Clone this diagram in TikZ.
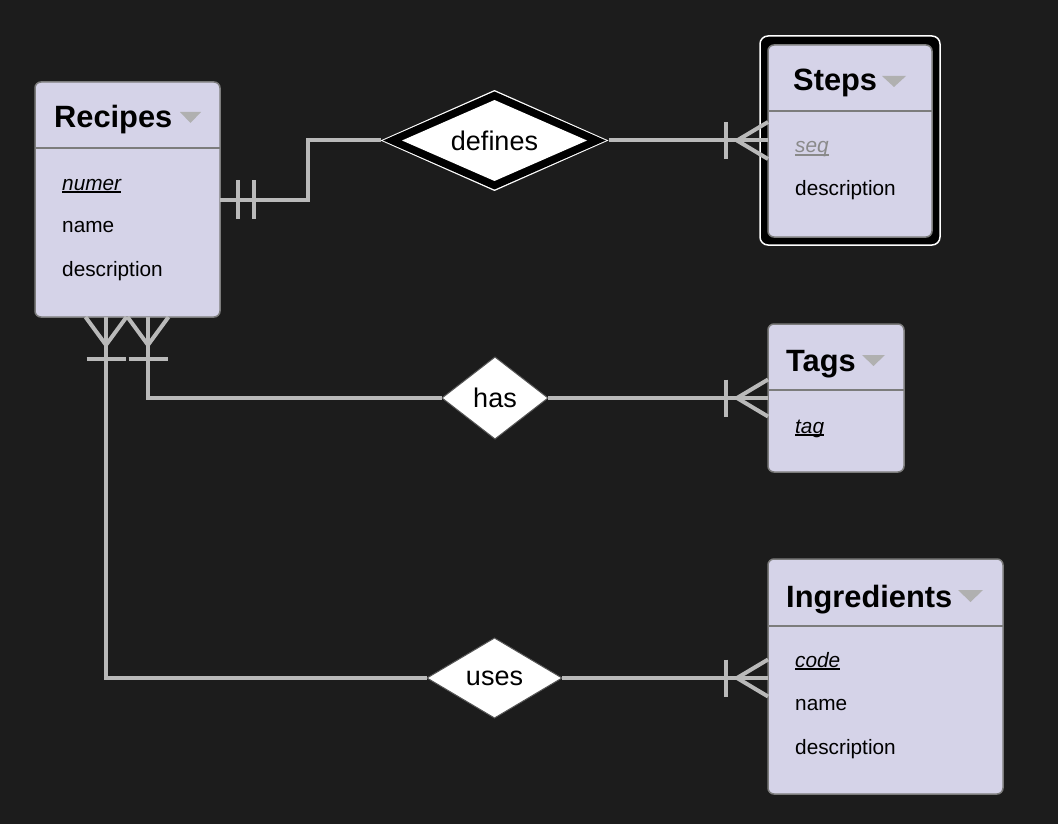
\documentclass[tikz,border=0pt]{standalone}
\usepackage{fontspec}
\setmainfont{Liberation Sans}
\usetikzlibrary{shapes.geometric,calc}
\definecolor{bg}{HTML}{1C1C1C}
\definecolor{ent}{HTML}{D5D3E8}
\definecolor{entb}{HTML}{7C7C7C}
\definecolor{conn}{HTML}{B9B9B9}
\definecolor{tri}{HTML}{B0B0B0}
\definecolor{weakattr}{HTML}{8A8A8A}
\definecolor{relb}{HTML}{555555}
\newcommand\myul[1]{\setbox0\hbox{#1}\rlap{\rule[-2.6pt]{\wd0}{1.3pt}}\box0}
\begin{document}
\begin{tikzpicture}[x=1pt,y=-1pt,
 entity/.style={draw=entb, line width=1.5pt, fill=ent, rounded corners=6pt, rectangle, inner sep=0pt, outer sep=0pt},
 title/.style={anchor=base west, font=\fontsize{30.8}{32}\selectfont\bfseries, inner sep=0pt},
 attr/.style={anchor=base west, font=\fontsize{20.8}{22}\selectfont, inner sep=0pt},
 divider/.style={draw=entb, line width=1.5pt},
 drop/.style={fill=tri},
 rel/.style={diamond, shape aspect=2.3, fill=white, inner sep=0pt, outer sep=0pt, font=\fontsize{27}{28}\selectfont},
 link/.style={draw=conn, line width=4pt},
 crowline/.style={draw=conn, line width=4pt, line cap=butt},
]
\fill[bg] (0,0) rectangle (1058,824);

% Recipes
\node[entity, minimum width=185pt, minimum height=235pt] (recipes) at (127.5,199.5) {};
\draw[divider] (recipes.west |- 0,148) -- (recipes.east |- 0,148);
\node[title] (recipesT) at (54,128) {Recipes};
\fill[drop] (180,112) -- (201,112) -- (190.5,123) -- cycle;
\node[attr] (recipesA1) at (62,190) {\myul{\itshape numer}};
\node[attr] (recipesA2) at (62,233) {name};
\node[attr] (recipesA3) at (62,276) {description};

% Steps (weak entity)
\node[rectangle, draw=white, line width=1.5pt, fill=black, rounded corners=8pt, minimum width=180pt, minimum height=209pt, inner sep=0pt] (stepsO) at (850,140.5) {};
\node[entity, minimum width=164pt, minimum height=192pt] (steps) at (850,141) {};
\draw[divider] (steps.west |- 0,111) -- (steps.east |- 0,111);
\node[title] (stepsT) at (793,91) {Steps};
\fill[drop] (882,76) -- (906,76) -- (894,87) -- cycle;
\node[attr, text=weakattr] (stepsA1) at (795,153) {\myul{\itshape seq}};
\node[attr] (stepsA2) at (795,196) {description};

% Tags
\node[entity, minimum width=136pt, minimum height=148pt] (tags) at (836,398) {};
\draw[divider] (tags.west |- 0,390) -- (tags.east |- 0,390);
\node[title] (tagsT) at (786,371) {Tags};
\fill[drop] (862,355) -- (885,355) -- (873.5,366) -- cycle;
\node[attr] (tagsA1) at (795,433) {\myul{\itshape tag}};

% Ingredients
\node[entity, minimum width=235pt, minimum height=235pt] (ingredients) at (885.5,676.5) {};
\draw[divider] (ingredients.west |- 0,626) -- (ingredients.east |- 0,626);
\node[title] (ingredientsT) at (786,607) {Ingredients};
\fill[drop] (958,590) -- (983,590) -- (970.5,602) -- cycle;
\node[attr] (ingredientsA1) at (795,667) {\myul{\itshape code}};
\node[attr] (ingredientsA2) at (795,710) {name};
\node[attr] (ingredientsA3) at (795,754) {description};

% Relationships
\node[rel, minimum width=228pt, minimum height=101pt] (definesO) at (494.5,140.5) {};
\node[rel, fill=black, minimum width=223pt, minimum height=98pt] (definesM) at (494.5,140.5) {};
\node[rel, minimum width=185pt, minimum height=81pt] (defines) at (494.5,140.5) {defines};
\node[rel, draw=relb, line width=1pt, minimum width=106pt, minimum height=82pt] (has) at (495,398) {has};
\node[rel, draw=relb, line width=1pt, minimum width=135pt, minimum height=80pt] (uses) at (494.5,678) {uses};

% Connectors
\coordinate (hasStart) at ([xshift=20.5pt]recipes.south);
\coordinate (usesStart) at ([xshift=-21.5pt]recipes.south);
\draw[link] (recipes.east) -- ++(88,0) |- (definesO.west);
\draw[link] (definesO.east) -- (definesO.east -| steps.west);
\draw[link] (hasStart) |- (has.west);
\draw[link] (has.east) -- (has.east -| tags.west);
\draw[link] (usesStart) |- (uses.west);
\draw[link] (uses.east) -- (uses.east -| ingredients.west);

% Cardinality marks
\coordinate (rP) at (recipes.east);
\draw[crowline] ($(rP)+(18,-19)$) -- ($(rP)+(18,19)$);
\draw[crowline] ($(rP)+(34,-19)$) -- ($(rP)+(34,19)$);

\foreach \S in {hasStart, usesStart}{
  \draw[crowline] ($(\S)+(-20.5,0)$) -- ($(\S)+(0,28)$);
  \draw[crowline] ($(\S)+(20.5,0)$) -- ($(\S)+(0,28)$);
  \draw[crowline] ($(\S)+(-19.5,42)$) -- ($(\S)+(19.5,42)$);
}

\foreach \A/\B in {definesO/steps, has/tags, uses/ingredients}{
  \coordinate (eP) at (\A.east -| \B.west);
  \draw[crowline] ($(eP)+(-42,-18.5)$) -- ($(eP)+(-42,18.5)$);
  \draw[crowline] ($(eP)+(0,-18.5)$) -- ($(eP)+(-31,0)$);
  \draw[crowline] ($(eP)+(0,18.5)$) -- ($(eP)+(-31,0)$);
}
\end{tikzpicture}
\end{document}
